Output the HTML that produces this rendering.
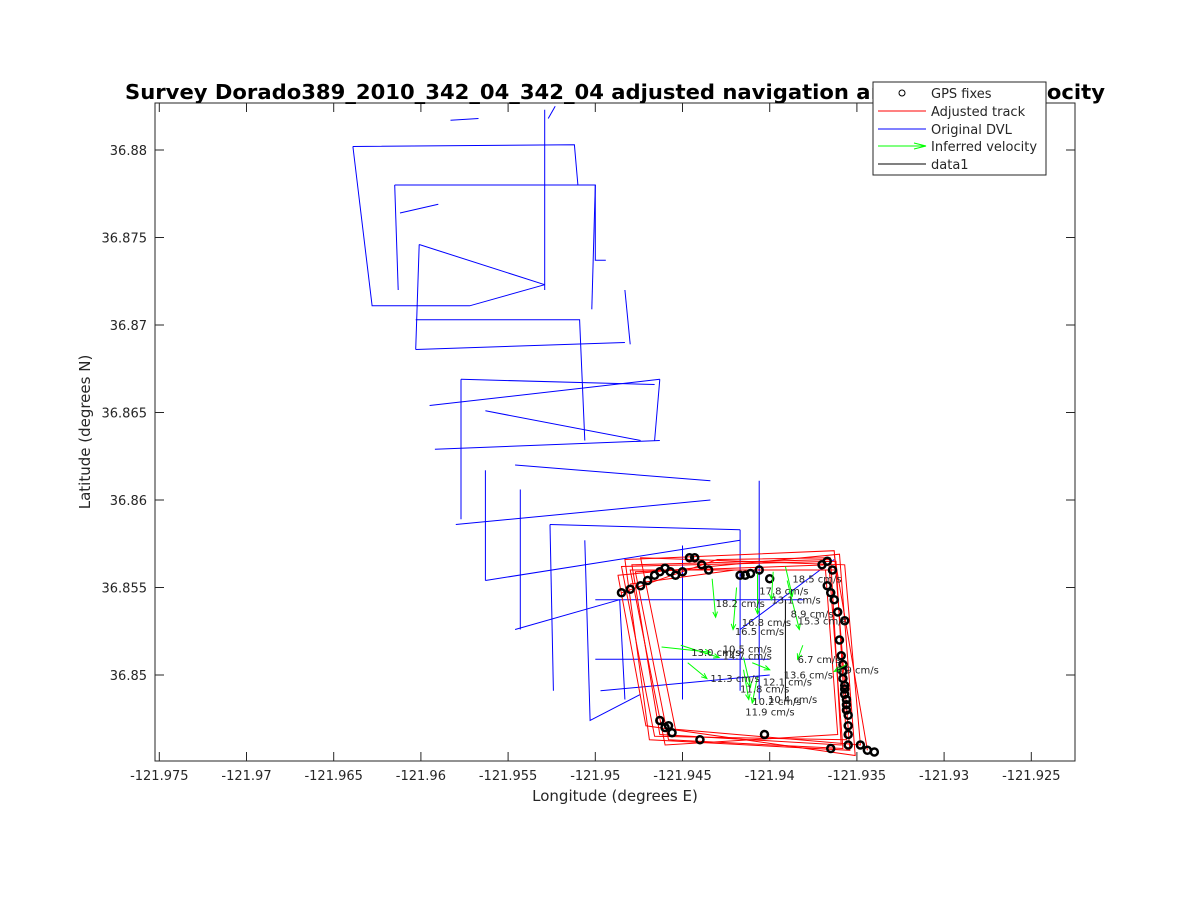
<!DOCTYPE html>
<html><head><meta charset="utf-8"><style>
body{margin:0;background:#fff;}
svg{display:block;font-family:"DejaVu Sans","Liberation Sans",sans-serif;}
</style></head><body>
<svg id="chart" width="1188" height="900" viewBox="0 0 1188 900">
<rect x="0" y="0" width="1188" height="900" fill="#fff"/>
<rect x="155" y="103" width="920" height="658" fill="#fff" stroke="none"/>
<g id="data-layer"></g>
<g id="axes"></g>
<text x="615" y="99" text-anchor="middle" font-size="20" font-weight="bold" textLength="980" lengthAdjust="spacingAndGlyphs">Survey Dorado389_2010_342_04_342_04 adjusted navigation and inferred velocity</text>
<text x="615" y="801" text-anchor="middle" font-size="15" fill="#262626">Longitude (degrees E)</text>
<text transform="translate(90,432) rotate(-90)" text-anchor="middle" font-size="15" fill="#262626">Latitude (degrees N)</text>
<g id="legend">
<rect x="873" y="82" width="173" height="93" fill="#fff" stroke="#262626"/>
<g><circle cx="902" cy="93" r="3" fill="none" stroke="#000"/><text x="931" y="98" font-size="13" fill="#262626">GPS fixes</text></g>
<g><line x1="878" y1="111" x2="926" y2="111" stroke="#f00"/><text x="931" y="116" font-size="13" fill="#262626">Adjusted track</text></g>
<g><line x1="878" y1="129" x2="926" y2="129" stroke="#00f"/><text x="931" y="134" font-size="13" fill="#262626">Original DVL</text></g>
<g><line x1="878" y1="146" x2="926" y2="146" stroke="#0f0"/><path d="M914,143 L926,146 L914,149" fill="none" stroke="#0f0"/><text x="931" y="151" font-size="13" fill="#262626">Inferred velocity</text></g>
<g><line x1="878" y1="164" x2="926" y2="164" stroke="#000"/><text x="931" y="169" font-size="13" fill="#262626">data1</text></g>
</g>
</svg>
<script>
const xTicks=[-121.975,-121.97,-121.965,-121.96,-121.955,-121.95,-121.945,-121.94,-121.935,-121.93,-121.925];
const xTickLabels=["-121.975","-121.97","-121.965","-121.96","-121.955","-121.95","-121.945","-121.94","-121.935","-121.93","-121.925"];
const yTicks=[36.85,36.855,36.86,36.865,36.87,36.875,36.88];
const yTickLabels=["36.85","36.855","36.86","36.865","36.87","36.875","36.88"];
const blueTracks=[
[[-121.9583,36.8817],[-121.9567,36.8818]],
[[-121.9527,36.8818],[-121.9523,36.8825]],
[[-121.9529,36.8823],[-121.9529,36.8720]],
[[-121.9639,36.8802],[-121.9512,36.8803],[-121.9510,36.8780]],
[[-121.9639,36.8802],[-121.9628,36.8711],[-121.9572,36.8711],[-121.9529,36.8723]],
[[-121.9615,36.8780],[-121.9500,36.8780],[-121.9500,36.8737],[-121.9494,36.8737]],
[[-121.9615,36.8780],[-121.9613,36.8720]],
[[-121.9612,36.8764],[-121.9590,36.8769]],
[[-121.9601,36.8746],[-121.9529,36.8723]],
[[-121.9601,36.8746],[-121.9603,36.8686]],
[[-121.9603,36.8703],[-121.9509,36.8703],[-121.9506,36.8634]],
[[-121.9603,36.8686],[-121.9483,36.8690]],
[[-121.9483,36.8720],[-121.9480,36.8689]],
[[-121.9500,36.8780],[-121.9502,36.8709]],
[[-121.9595,36.8654],[-121.9463,36.8669]],
[[-121.9577,36.8669],[-121.9466,36.8666]],
[[-121.9463,36.8669],[-121.9466,36.8634]],
[[-121.9592,36.8629],[-121.9463,36.8634]],
[[-121.9563,36.8651],[-121.9474,36.8634]],
[[-121.9577,36.8669],[-121.9577,36.8589]],
[[-121.9580,36.8586],[-121.9434,36.8600]],
[[-121.9563,36.8617],[-121.9563,36.8554]],
[[-121.9546,36.8620],[-121.9434,36.8611]],
[[-121.9543,36.8606],[-121.9543,36.8526]],
[[-121.9563,36.8554],[-121.9417,36.8577]],
[[-121.9526,36.8586],[-121.9417,36.8583]],
[[-121.9526,36.8586],[-121.9524,36.8491]],
[[-121.9546,36.8526],[-121.9486,36.8543]],
[[-121.9506,36.8577],[-121.9503,36.8474],[-121.9474,36.8489]],
[[-121.9486,36.8543],[-121.9483,36.8486]],
[[-121.9417,36.8583],[-121.9417,36.8491]],
[[-121.9450,36.8574],[-121.9450,36.8486]],
[[-121.9406,36.8611],[-121.9406,36.8486]],
[[-121.9500,36.8543],[-121.9380,36.8543]],
[[-121.9500,36.8509],[-121.9400,36.8509]],
[[-121.9497,36.8491],[-121.9400,36.8500]],
[[-121.9417,36.8526],[-121.9363,36.8566]]
];
const redLoops=[
[[-121.9483,36.8566],[-121.9363,36.8571],[-121.9354,36.8457],[-121.9469,36.8463]],
[[-121.9479,36.8563],[-121.9365,36.8566],[-121.9359,36.8460],[-121.9463,36.8466]],
[[-121.9487,36.8557],[-121.9360,36.8569],[-121.9351,36.8454],[-121.9471,36.8471]],
[[-121.9480,36.8560],[-121.9368,36.8560],[-121.9361,36.8466],[-121.9460,36.8460]],
[[-121.9474,36.8567],[-121.9357,36.8563],[-121.9348,36.8460],[-121.9454,36.8469]],
[[-121.9485,36.8562],[-121.9362,36.8565],[-121.9356,36.8463],[-121.9466,36.8465]],
[[-121.9477,36.8559],[-121.9366,36.8563],[-121.9358,36.8458],[-121.9458,36.8463]]
];
const redLines=[[[-121.9363,36.8569],[-121.9344,36.8457]],[[-121.9485,36.8547],[-121.9430,36.8566],[-121.9365,36.8567]],[[-121.9480,36.8552],[-121.9420,36.8560],[-121.9362,36.8560]]];
const blackLines=[[[-121.9391,36.8543],[-121.9391,36.8486]]];
const gpsLon=[-121.9485,-121.9480,-121.9474,-121.9470,-121.9466,-121.9463,-121.9460,-121.9457,-121.9454,-121.9450,-121.9446,-121.9443,-121.9439,-121.9435,-121.9417,-121.9414,-121.9411,-121.9406,-121.9400,-121.9370,-121.9367,-121.9364,-121.9367,-121.9365,-121.9363,-121.9361,-121.9357,-121.9360,-121.9359,-121.9358,-121.9358,-121.9358,-121.9357,-121.9357,-121.9357,-121.9356,-121.9356,-121.9356,-121.9355,-121.9355,-121.9355,-121.9355,-121.9463,-121.9458,-121.9456,-121.9460,-121.9403,-121.9365,-121.9344,-121.9340,-121.9348,-121.9440];
const gpsLat=[36.8547,36.8549,36.8551,36.8554,36.8557,36.8559,36.8561,36.8559,36.8557,36.8559,36.8567,36.8567,36.8563,36.8560,36.8557,36.8557,36.8558,36.8560,36.8555,36.8563,36.8565,36.8560,36.8551,36.8547,36.8543,36.8536,36.8531,36.8520,36.8511,36.8506,36.8502,36.8498,36.8494,36.8492,36.8489,36.8486,36.8483,36.8480,36.8477,36.8471,36.8466,36.8460,36.8474,36.8471,36.8467,36.8470,36.8466,36.8458,36.8457,36.8456,36.8460,36.8463];
const arrowLon0=[-121.9433,-121.9419,-121.9407,-121.9398,-121.9391,-121.9390,-121.9462,-121.9451,-121.9381,-121.9447,-121.9415,-121.9410,-121.9356,-121.9415,-121.9407];
const arrowLat0=[36.8555,36.8550,36.8558,36.8559,36.8562,36.8554,36.8516,36.8517,36.8517,36.8507,36.8510,36.8507,36.8506,36.8503,36.8499];
const arrowLon1=[-121.9431,-121.9421,-121.9407,-121.9399,-121.9387,-121.9383,-121.9434,-121.9429,-121.9384,-121.9436,-121.9411,-121.9400,-121.9363,-121.9412,-121.9410];
const arrowLat1=[36.8533,36.8526,36.8535,36.8543,36.8545,36.8526,36.8513,36.8510,36.8509,36.8498,36.8493,36.8503,36.8502,36.8486,36.8484];
const labelText=["18.2 cm/s","17.8 cm/s","18.5 cm/s","13.1 cm/s","8.9 cm/s","15.3 cm/s","16.8 cm/s","16.5 cm/s","13.0 cm/s","10.5 cm/s","14.7 cm/s","6.7 cm/s","6.9 cm/s","13.6 cm/s","11.3 cm/s","12.1 cm/s","11.8 cm/s","10.2 cm/s","10.4 cm/s","11.9 cm/s"];
const labelLon=[-121.9431,-121.9406,-121.9387,-121.9399,-121.9388,-121.9384,-121.9416,-121.9420,-121.9445,-121.9427,-121.9427,-121.9384,-121.9362,-121.9392,-121.9434,-121.9404,-121.9417,-121.9410,-121.9401,-121.9414];
const labelLat=[36.8539,36.8546,36.8553,36.8541,36.8533,36.8529,36.8528,36.8523,36.8511,36.8513,36.8509,36.8507,36.8501,36.8498,36.8496,36.8494,36.8490,36.8483,36.8484,36.8477];

const NS='http://www.w3.org/2000/svg';
const L=155,R=1075,T=103,B=761;
function xs(lon){return 159.3+(lon+121.975)/0.005*87.2;}
function ys(lat){return 675-(lat-36.85)/0.005*87.5;}
const dl=document.getElementById('data-layer');
const ax=document.getElementById('axes');
function mk(tag,attrs,parent){const e=document.createElementNS(NS,tag);for(const k in attrs)e.setAttribute(k,attrs[k]);parent.appendChild(e);return e;}
function pts(arr){return arr.map(p=>xs(p[0]).toFixed(1)+','+ys(p[1]).toFixed(1)).join(' ');}
blueTracks.forEach((t)=>{const e=mk('polyline',{points:pts(t),fill:'none',stroke:'#00f','stroke-width':1},dl);

});
redLoops.forEach((t)=>{const e=mk('polygon',{points:pts(t),fill:'none',stroke:'#f00','stroke-width':1},dl);

});
redLines.forEach((t)=>{const e=mk('polyline',{points:pts(t),fill:'none',stroke:'#f00','stroke-width':1},dl);

});
blackLines.forEach((t)=>{const e=mk('polyline',{points:pts(t),fill:'none',stroke:'#000','stroke-width':1},dl);

});
gpsLon.forEach((lon,i)=>{const e=mk('circle',{cx:xs(lon),cy:ys(gpsLat[i]),r:3.5,fill:'none',stroke:'#000','stroke-width':2.5},dl);

});
arrowLon0.forEach((lon,i)=>{const x0=xs(lon),y0=ys(arrowLat0[i]),x1=xs(arrowLon1[i]),y1=ys(arrowLat1[i]);
const a=Math.atan2(y1-y0,x1-x0),h=6;
const g=mk('g',{},dl);


mk('line',{x1:x0,y1:y0,x2:x1,y2:y1,stroke:'#0f0','stroke-width':1},g);
mk('path',{d:`M${x1-h*Math.cos(a-0.4)},${y1-h*Math.sin(a-0.4)} L${x1},${y1} L${x1-h*Math.cos(a+0.4)},${y1-h*Math.sin(a+0.4)}`,fill:'none',stroke:'#0f0','stroke-width':1},g);});
labelText.forEach((t,i)=>{const e=mk('text',{x:xs(labelLon[i]),y:ys(labelLat[i]),'font-size':10,fill:'#262626'},dl);e.textContent=t;

});
mk('rect',{x:L,y:T,width:R-L,height:B-T,fill:'none',stroke:'#262626','stroke-width':1},ax);
xTicks.forEach((v,i)=>{const x=xs(v);
mk('line',{x1:x,y1:B,x2:x,y2:B-9,stroke:'#262626'},ax);
mk('line',{x1:x,y1:T,x2:x,y2:T+9,stroke:'#262626'},ax);
const e=mk('text',{x:x,y:B+19,'text-anchor':'middle','font-size':13,fill:'#262626'},ax);e.textContent=xTickLabels[i];

});
yTicks.forEach((v,i)=>{const y=ys(v);
mk('line',{x1:L,y1:y,x2:L+9,y2:y,stroke:'#262626'},ax);
mk('line',{x1:R,y1:y,x2:R-9,y2:y,stroke:'#262626'},ax);
const e=mk('text',{x:L-8,y:y+5,'text-anchor':'end','font-size':13,fill:'#262626'},ax);e.textContent=yTickLabels[i];

});
</script>
</body></html>
